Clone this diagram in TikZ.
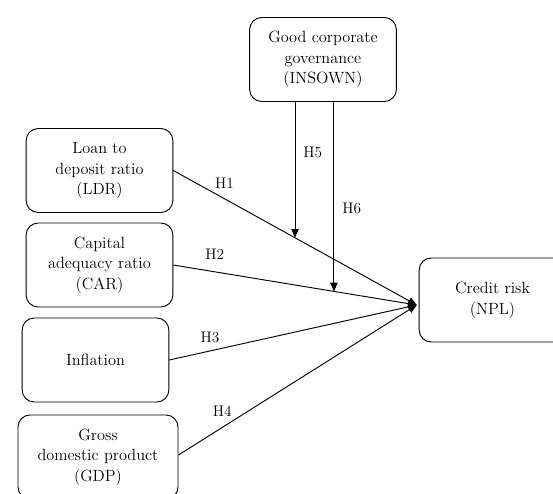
\documentclass[tikz,border=0pt]{standalone}
\usepackage{tikz}
\usetikzlibrary{arrows.meta, positioning, calc}

\begin{document}
\begin{tikzpicture}[x=0.75pt, y=-0.75pt,
    box/.style={draw, line width=0.7pt, rounded corners=9pt, minimum width=110pt, minimum height=63pt, align=center, font=\fontsize{12.2}{15.5}\selectfont},
    arr/.style={line width=0.7pt, -{Triangle[length=6.5pt, width=5.5pt]}},
    lbl/.style={inner sep=0pt, font=\fontsize{11.5}{14}\selectfont}]
    \useasboundingbox (0,0) rectangle (553,493);

    % Moderator
    \node[box] (gov) at (323,59.5) {Good corporate\\governance\\(INSOWN)};

    % Independent variables
    \node[box] (ldr) at (99.5,170.5) {Loan to\\deposit ratio\\(LDR)};
    \node[box] (car) at (99.5,265) {Capital\\adequacy ratio\\(CAR)};
    \node[box] (inf) at (95.5,360) {Inflation};
    \node[box, minimum width=120pt] (gdp) at (98,457) {Gross\\domestic product\\(GDP)};

    % Dependent variable
    \node[box] (npl) at (492.5,300) {Credit risk\\(NPL)};
    \coordinate (tip) at ($(npl.west)+(-2,5)$);

    % Direct effects
    \draw[arr] (ldr.east) -- (tip) node[lbl, pos=0.21, above=7pt] {H1};
    \draw[arr] (car.east) -- (tip) node[lbl, pos=0.17, above=9pt] {H2};
    \draw[arr] (inf.east) -- (tip) node[lbl, pos=0.165, above=6pt] {H3};
    \draw[arr] ($(gdp.east)+(0,-2)$) -- (tip) node[lbl, pos=0.184, above=8pt] {H4};

    % Moderating effects
    \coordinate (m1) at ($(ldr.east)!0.5!(tip)$);
    \coordinate (m2) at ($(car.east)!0.66!(tip)$);
    \draw[arr] (gov.south -| m1) -- (m1) node[lbl, pos=0.37, right=6pt] {H5};
    \draw[arr] (gov.south -| m2) -- (m2) node[lbl, pos=0.56, right=6pt] {H6};
\end{tikzpicture}
\end{document}
